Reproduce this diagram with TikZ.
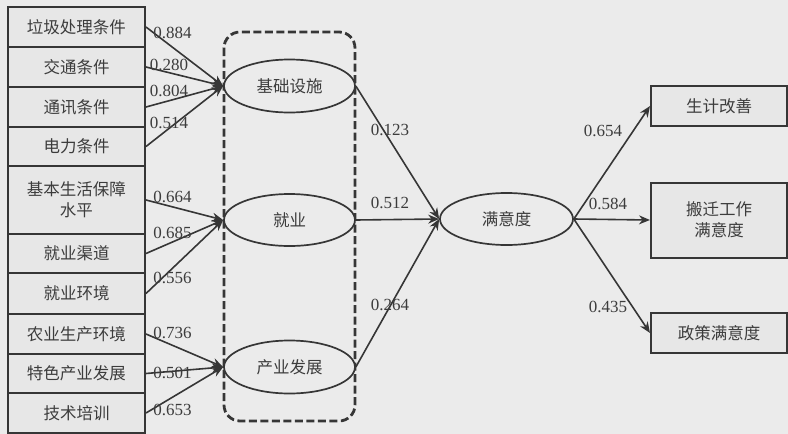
\documentclass[tikz,border=0pt]{standalone}
\usepackage{fontspec}
\setmainfont{Liberation Serif}
\newfontfamily\cjk{Noto Sans CJK SC}
\usetikzlibrary{arrows.meta,shapes.geometric}
\definecolor{bgc}{HTML}{EBEBEB}
\definecolor{boxc}{HTML}{E7E7E7}
\definecolor{lc}{HTML}{363636}
\definecolor{tc}{HTML}{3C3C3C}
\begin{document}
\begin{tikzpicture}[x=1pt,y=-1pt,
  box/.style={draw=lc, line width=2pt, fill=boxc, minimum width=137pt, minimum height=40pt, inner sep=0pt, font=\cjk\fontsize{16.5}{21}\selectfont, text=tc, align=center},
  rbox/.style={box, minimum width=136pt},
  lat/.style={ellipse, draw=lc, line width=1.7pt, fill=bgc, minimum width=131pt, minimum height=53pt, inner sep=0pt, font=\cjk\fontsize{16.5}{21}\selectfont, text=tc},
  coef/.style={font=\fontsize{17}{20}\selectfont, text=tc, inner sep=0pt},
  arr/.style={draw=lc, line width=1.6pt, -{Stealth[length=11pt,width=9pt]}},
  grp/.style={draw=lc, line width=2.8pt, dash pattern=on 8pt off 3.5pt, rounded corners=16pt}
]
\fill[bgc] (0,0) rectangle (788,434);
\useasboundingbox (0,0) rectangle (788,434);

% group frame
\draw[grp] (224,32) rectangle (355,421);

% left indicator boxes
\node[box] (b1) at (76.5,27) {垃圾处理条件};
\node[box] (b2) at (76.5,67) {交通条件};
\node[box] (b3) at (76.5,107) {通讯条件};
\node[box, minimum height=39pt] (b4) at (76.5,146.5) {电力条件};
\node[box, minimum height=68pt] (b5) at (76.5,200) {基本生活保障\\水平};
\node[box, minimum height=39pt] (b6) at (76.5,253.5) {就业渠道};
\node[box, minimum height=41pt] (b7) at (76.5,293.5) {就业环境};
\node[box] (b8) at (76.5,334) {农业生产环境};
\node[box, minimum height=39pt] (b9) at (76.5,373.5) {特色产业发展};
\node[box] (b10) at (76.5,413) {技术培训};

% latent variables
\node[lat] (jc) at (289.5,86) {基础设施};
\node[lat, minimum height=52pt] (jy) at (289.5,220) {就业};
\node[lat] (cy) at (289.5,367) {产业发展};
\node[lat, minimum width=133pt, minimum height=52pt] (sat) at (506.5,219) {满意度};

% right outcome boxes
\node[rbox] (r1) at (719,106) {生计改善};
\node[rbox, minimum height=75pt] (r2) at (719,220) {搬迁工作\\满意度};
\node[rbox] (r3) at (719,333) {政策满意度};

% arrows left -> latent
\foreach \b in {b1,b2,b3,b4} \draw[arr] (\b.east) -- (jc.west);
\foreach \b in {b5,b6,b7} \draw[arr] (\b.east) -- (jy.west);
\foreach \b in {b8,b9,b10} \draw[arr] (\b.east) -- (cy.west);

% latent -> satisfaction
\draw[arr] (jc.east) -- (sat.west);
\draw[arr] (jy.east) -- (sat.west);
\draw[arr] (cy.east) -- (sat.west);

% satisfaction -> outcomes
\draw[arr] (sat.east) -- (r1.west);
\draw[arr] (sat.east) -- (r2.west);
\draw[arr] (sat.east) -- (r3.west);

% coefficients
\node[coef] (c1) at (172.5,33) {0.884};
\node[coef] (c2) at (169,65) {0.280};
\node[coef] (c3) at (169,91) {0.804};
\node[coef] (c4) at (169,123) {0.514};
\node[coef] (c5) at (172.5,197) {0.664};
\node[coef] (c6) at (172.5,233) {0.685};
\node[coef] (c7) at (172.5,278) {0.556};
\node[coef] (c8) at (172.5,333) {0.736};
\node[coef] (c9) at (172.5,373) {0.501};
\node[coef] (c10) at (172.5,410) {0.653};
\node[coef] (c11) at (390,130) {0.123};
\node[coef] (c12) at (390,203) {0.512};
\node[coef] (c13) at (390,305) {0.264};
\node[coef] (c14) at (603,131) {0.654};
\node[coef] (c15) at (608,204) {0.584};
\node[coef] (c16) at (608,307) {0.435};
\end{tikzpicture}
\end{document}
